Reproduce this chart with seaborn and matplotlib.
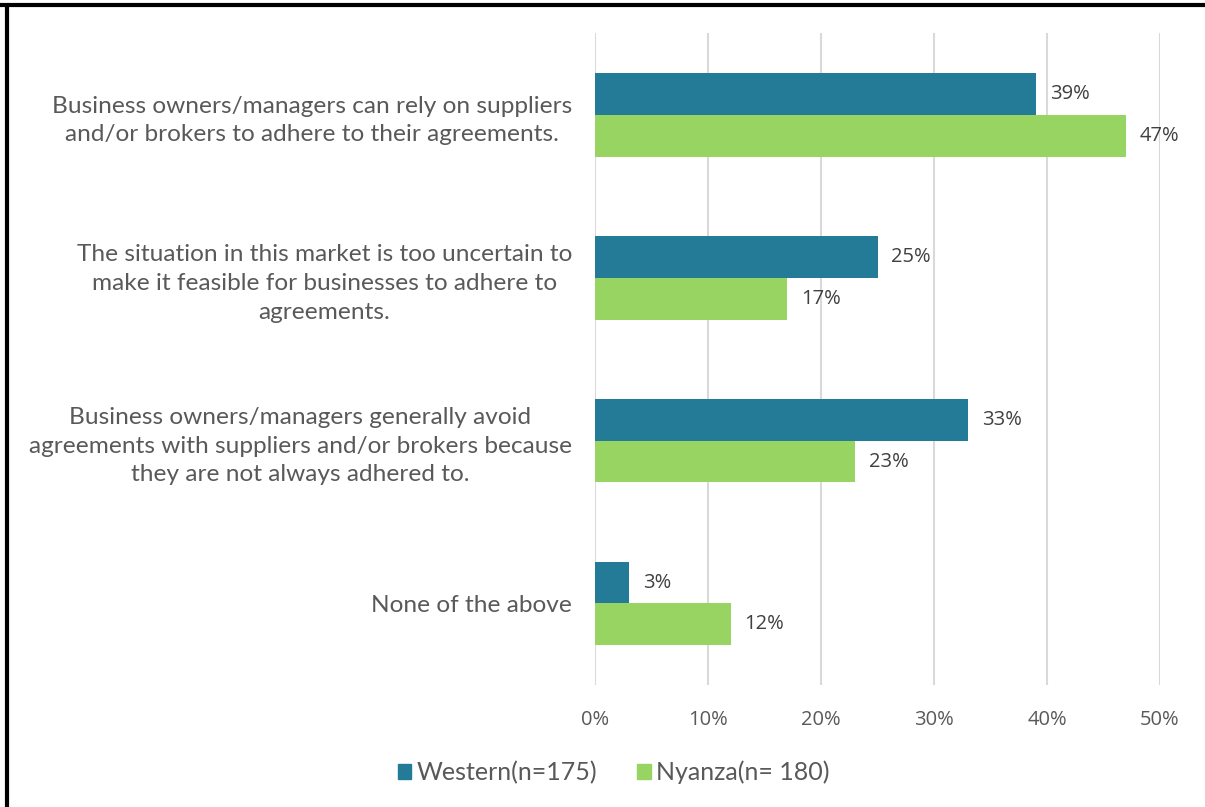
import matplotlib
matplotlib.use("Agg")
import matplotlib.pyplot as plt
from matplotlib.lines import Line2D
import matplotlib.transforms as mtransforms
import pandas as pd
import seaborn as sns

# Survey responses by region (percent of respondents)
statements = [
    "Business owners/managers can rely on suppliers\nand/or brokers to adhere to their agreements.",
    "The situation in this market is too uncertain to\nmake it feasible for businesses to adhere to\nagreements.",
    "Business owners/managers generally avoid\nagreements with suppliers and/or brokers because\nthey are not always adhered to.",
    "None of the above",
]
regions = ["Western(n=175)", "Nyanza(n= 180)"]
western = [39, 25, 33, 3]
nyanza = [47, 17, 23, 12]
colors = ["#237B98", "#98D462"]
x_ticks = [0, 10, 20, 30, 40, 50]

df = pd.DataFrame({
    "statement": statements * 2,
    "region": [regions[0]] * len(statements) + [regions[1]] * len(statements),
    "pct": western + nyanza,
})

sns.set_style("white")
plt.rcParams["font.family"] = ["Lato", "DejaVu Sans"]

fig = plt.figure(figsize=(12.05, 8.07), dpi=100)
ax = fig.add_axes([0.4938, 0.1512, 0.4689, 0.8078])

sns.barplot(data=df, y="statement", x="pct", hue="region", orient="h",
            order=statements, hue_order=regions, palette=colors,
            width=0.515, saturation=1, legend=False, ax=ax, edgecolor="none")

ax.set_xlim(0, 50)
ax.set_xticks(x_ticks)
ax.set_xticklabels([f"{t}%" for t in x_ticks], fontfamily="Open Sans",
                   fontsize=14.5, color="#595959")
ax.set_xlabel("")
ax.set_ylabel("")
ax.xaxis.grid(True, color="#D9D9D9", linewidth=1.5)
ax.set_axisbelow(True)
for s in ax.spines.values():
    s.set_visible(False)
ax.tick_params(axis="x", length=0, pad=18)
ax.tick_params(axis="y", length=0, pad=0)
for lbl in ax.get_yticklabels():
    lbl.set_fontsize(17.6)
    lbl.set_color("#595959")
    lbl.set_horizontalalignment("center")
    lbl.set_multialignment("center")
    lbl.set_linespacing(1.45)

# centre each wrapped label so its right edge sits just left of the axis
fig.canvas.draw()
renderer = fig.canvas.get_renderer()
right_px = 572
ax_bb = ax.get_window_extent(renderer)
trans = mtransforms.blended_transform_factory(ax.transAxes, ax.transData)
for lbl in ax.get_yticklabels():
    bb = lbl.get_window_extent(renderer)
    cx_px = right_px - bb.width / 2
    lbl.set_x((cx_px - ax_bb.x0) / ax_bb.width)
    lbl.set_transform(trans)

for cont, vals in zip(ax.containers, [western, nyanza]):
    ax.bar_label(cont, labels=[f"{v}%" for v in vals], padding=10,
                 fontfamily="Open Sans", fontsize=14.5, color="#404040")

handles = [plt.Rectangle((0, 0), 1, 1, color=c) for c in colors]
fig.legend(handles, regions, loc="center", bbox_to_anchor=(0.509, 0.043),
           ncol=2, frameon=False, fontsize=18, handlelength=0.55,
           handleheight=0.55, handletextpad=0.2, columnspacing=1.6,
           labelcolor="#595959")

# frame edges along the top and left of the figure
fig.add_artist(Line2D([0, 1], [0.9938, 0.9938], color="black", linewidth=3,
                      transform=fig.transFigure))
fig.add_artist(Line2D([0.0055, 0.0055], [0, 0.9938], color="black", linewidth=3,
                      transform=fig.transFigure))

fig.savefig("out.png", dpi=100)
